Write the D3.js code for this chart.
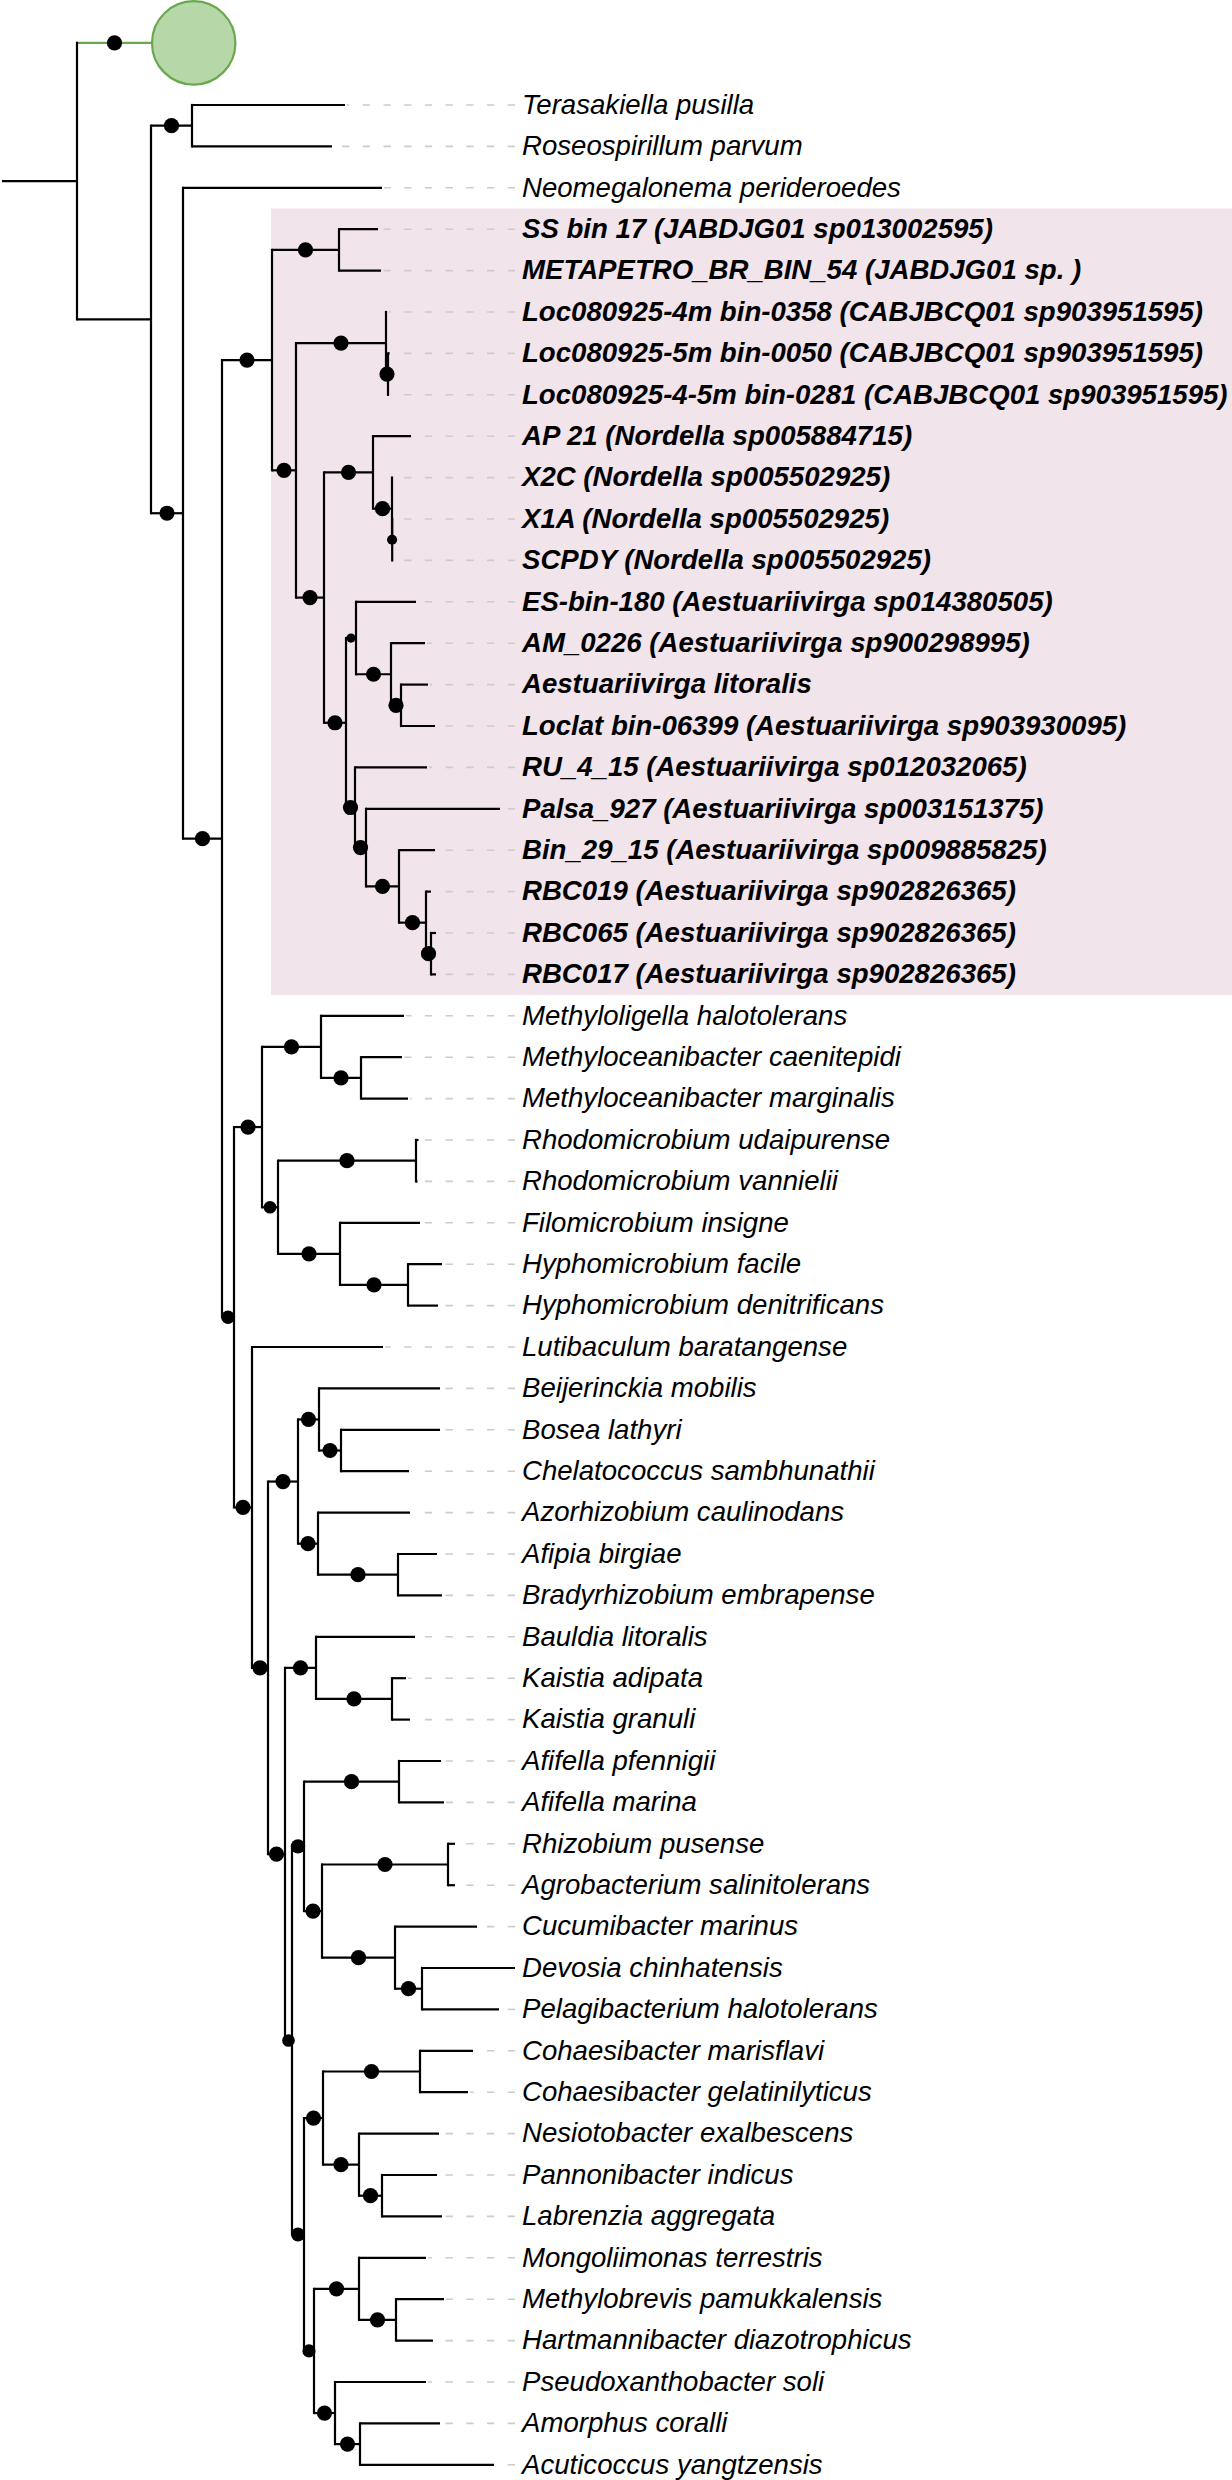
<!DOCTYPE html>
<html>
<head>
<meta charset="utf-8">
<script src="https://cdn.jsdelivr.net/npm/d3@7"></script>
<style>
  html, body { margin: 0; padding: 0; background: #ffffff; }
  svg { display: block; }
</style>
</head>
<body>
<div id="chart"></div>
<script>
// ---------------- DATA ----------------
// Tip labels, in the order they appear from top to bottom (tip ids 0..57 in the tree strings)
const tipLabels = [
  "Terasakiella pusilla",
  "Roseospirillum parvum",
  "Neomegalonema perideroedes",
  "SS bin 17 (JABDJG01 sp013002595)",
  "METAPETRO_BR_BIN_54 (JABDJG01 sp. )",
  "Loc080925-4m bin-0358 (CABJBCQ01 sp903951595)",
  "Loc080925-5m bin-0050 (CABJBCQ01 sp903951595)",
  "Loc080925-4-5m bin-0281 (CABJBCQ01 sp903951595)",
  "AP 21 (Nordella sp005884715)",
  "X2C (Nordella sp005502925)",
  "X1A (Nordella sp005502925)",
  "SCPDY (Nordella sp005502925)",
  "ES-bin-180 (Aestuariivirga sp014380505)",
  "AM_0226 (Aestuariivirga sp900298995)",
  "Aestuariivirga litoralis",
  "Loclat bin-06399 (Aestuariivirga sp903930095)",
  "RU_4_15 (Aestuariivirga sp012032065)",
  "Palsa_927 (Aestuariivirga sp003151375)",
  "Bin_29_15 (Aestuariivirga sp009885825)",
  "RBC019 (Aestuariivirga sp902826365)",
  "RBC065 (Aestuariivirga sp902826365)",
  "RBC017 (Aestuariivirga sp902826365)",
  "Methyloligella halotolerans",
  "Methyloceanibacter caenitepidi",
  "Methyloceanibacter marginalis",
  "Rhodomicrobium udaipurense",
  "Rhodomicrobium vannielii",
  "Filomicrobium insigne",
  "Hyphomicrobium facile",
  "Hyphomicrobium denitrificans",
  "Lutibaculum baratangense",
  "Beijerinckia mobilis",
  "Bosea lathyri",
  "Chelatococcus sambhunathii",
  "Azorhizobium caulinodans",
  "Afipia birgiae",
  "Bradyrhizobium embrapense",
  "Bauldia litoralis",
  "Kaistia adipata",
  "Kaistia granuli",
  "Afifella pfennigii",
  "Afifella marina",
  "Rhizobium pusense",
  "Agrobacterium salinitolerans",
  "Cucumibacter marinus",
  "Devosia chinhatensis",
  "Pelagibacterium halotolerans",
  "Cohaesibacter marisflavi",
  "Cohaesibacter gelatinilyticus",
  "Nesiotobacter exalbescens",
  "Pannonibacter indicus",
  "Labrenzia aggregata",
  "Mongoliimonas terrestris",
  "Methylobrevis pamukkalensis",
  "Hartmannibacter diazotrophicus",
  "Pseudoxanthobacter soli",
  "Amorphus coralli",
  "Acuticoccus yangtzensis"
];

// Collapsed clade (shown as the green circle): id "c" in the tree, occupies 2 rows
const collapsedId = "c";
const collapsedRows = 2;

// Highlighted clade: MRCA of these two tips (tips in it are also drawn bold)
const highlightTips = [3, 21];

// Subtree strings (Newick; tip ids, internal labels = support values, :branch lengths)
const cladeJABDJG  = "(3:0.039,4:0.042)100:0.067";
const cladeCABJBCQ = "(5:0.0005,(6:0.0016,7:0.0003)100:0.002)100:0.090";
const cladeNordella = "(8:0.038,(9:0.0003,(10:0.0003,11:0.0003)70:0.0002)100:0.019)100:0.049";
const cladeAestA = "(12:0.060,(13:0.034,(14:0.027,15:0.034)100:0.010)100:0.035)65:0.010";
const cladeAestB = "(16:0.072,(17:0.134,(18:0.036,(19:0.005,(20:0.005,21:0.005)100:0.005)100:0.027)100:0.033)100:0.011)100:0.009";
const cladeHypho = "((22:0.083,(23:0.041,24:0.047)100:0.040)100:0.059,((25:0.0025,26:0.0015)100:0.138,(27:0.080,(28:0.034,29:0.030)100:0.068)100:0.062)85:0.016)100:0.028";
const cladeBradyr = "((31:0.121,(32:0.099,33:0.068)100:0.022)100:0.021,(34:0.092,(35:0.039,36:0.044)100:0.080)100:0.020)100:0.030";
const cladeKaistia = "(37:0.099,(38:0.014,39:0.018)100:0.076)100:0.031";
const cladeRhizob = "((40:0.042,41:0.045)100:0.095,((42:0.007,43:0.007)100:0.126,(44:0.082,(45:0.093,46:0.077)100:0.027)100:0.073)100:0.018)95:0.012";
const cladeStappia = "(((47:0.053,48:0.048)100:0.097,(49:0.080,(50:0.055,51:0.060)100:0.023)100:0.036)100:0.019,((52:0.067,(53:0.048,54:0.037)100:0.037)100:0.045,(55:0.091,(56:0.080,57:0.134)100:0.025)100:0.021)88:0.010)92:0.012";

const cladeRhizobiales = "(" + cladeKaistia + ",(" + cladeRhizob + "," + cladeStappia + ")85:0.007)100:0.017";
const cladeLower = "(" + cladeHypho + ",(30:0.131,(" + cladeBradyr + "," + cladeRhizobiales + ")100:0.016)100:0.018)90:0.012";
const cladeHighlight = "(" + cladeJABDJG + ",(" + cladeCABJBCQ + ",(" + cladeNordella + ",(" + cladeAestA + "," + cladeAestB + ")100:0.022)100:0.028)100:0.024)100:0.050";
const treeNewick = "(" + collapsedId + ":0.075,((0:0.153,1:0.140)100:0.041,(2:0.199,(" +
  cladeHighlight + "," + cladeLower + ")100:0.039)100:0.032):0.074):0.075;";

// ---------------- PARSE ----------------
function parseNewick(s) {
  let i = 0;
  function node() {
    const n = { children: [] };
    if (s[i] === "(") {
      i++;
      n.children.push(node());
      while (s[i] === ",") { i++; n.children.push(node()); }
      i++; // ')'
    }
    let name = "";
    while (i < s.length && !":,();".includes(s[i])) name += s[i++];
    n.name = name;
    n.length = 0;
    if (s[i] === ":") {
      i++;
      let num = "";
      while (i < s.length && !",();".includes(s[i])) num += s[i++];
      n.length = +num;
    }
    return n;
  }
  return node();
}

const root = d3.hierarchy(parseNewick(treeNewick), d => d.children.length ? d.children : null);

// cumulative branch length
root.eachBefore(n => { n.len = (n.parent ? n.parent.len : 0) + n.data.length; });

// rows
let row = 0;
root.leaves().forEach(l => {
  if (l.data.name === collapsedId) {
    l.row = row + (collapsedRows - 1) / 2;
    row += collapsedRows;
  } else {
    l.row = row;
    row += 1;
  }
});
const nRows = row;
root.eachAfter(n => { if (n.children) n.row = d3.mean(n.children, c => c.row); });

// ---------------- SCALES ----------------
const W = 1232, H = 2480;
const maxLen = d3.max(root.leaves(), l => l.len);
const x = d3.scaleLinear().domain([0, maxLen]).range([2, 515]);
const y = d3.scaleLinear().domain([0, nRows - 1]).range([22.2, 2464.8]);
const rowH = y(1) - y(0);
const rSupport = d3.scaleLinear().domain([60, 100]).range([4.2, 7.6]);

const labelX = 522;
const fontSize = 27.6;
const lineW = 2.2;
const green = "#6aa84f";
const greenFill = "#b6d7a8";

const svg = d3.select("#chart").append("svg")
  .attr("width", W).attr("height", H)
  .attr("viewBox", `0 0 ${W} ${H}`);
svg.append("rect").attr("width", W).attr("height", H).attr("fill", "#ffffff");

// ---------------- HIGHLIGHT ----------------
const leafById = new Map(root.leaves().map(l => [l.data.name, l]));
const hlA = leafById.get(String(highlightTips[0]));
const hlB = leafById.get(String(highlightTips[1]));
const hlNode = hlA.ancestors().find(a => hlB.ancestors().includes(a));
const hlLeaves = new Set(hlNode.leaves());
const hlRows = hlNode.leaves().map(l => l.row);
svg.append("rect")
  .attr("x", x(hlNode.len) - 1)
  .attr("y", y(d3.min(hlRows)) - rowH / 2)
  .attr("width", W - (x(hlNode.len) - 1))
  .attr("height", y(d3.max(hlRows)) - y(d3.min(hlRows)) + rowH)
  .attr("fill", "#f2e4eb");

// ---------------- LEADER LINES ----------------
const tips = root.leaves().filter(l => l.data.name !== collapsedId);
svg.append("g").selectAll("path").data(tips.filter(t => x(t.len) < x(maxLen) - 1))
  .join("path")
  .attr("d", t => `M${x(maxLen)},${y(t.row)}H${x(t.len) + 2}`)
  .attr("fill", "none")
  .attr("stroke", "#cccccc")
  .attr("stroke-width", 1.6)
  .attr("stroke-dasharray", "7.3,13.4");

// ---------------- BRANCHES ----------------
const gTree = svg.append("g");
// root stem
gTree.append("line")
  .attr("x1", x(0)).attr("x2", x(root.len))
  .attr("y1", y(root.row)).attr("y2", y(root.row))
  .attr("stroke", "#000").attr("stroke-width", lineW);
// horizontal branches
gTree.append("g").selectAll("line").data(root.descendants().filter(n => n.parent))
  .join("line")
  .attr("x1", n => x(n.parent.len)).attr("x2", n => x(n.len))
  .attr("y1", n => y(n.row)).attr("y2", n => y(n.row))
  .attr("stroke", n => n.data.name === collapsedId ? green : "#000")
  .attr("stroke-width", lineW);
// vertical connectors
gTree.append("g").selectAll("line").data(root.descendants().filter(n => n.children))
  .join("line")
  .attr("x1", n => x(n.len)).attr("x2", n => x(n.len))
  .attr("y1", n => y(d3.min(n.children, c => c.row)))
  .attr("y2", n => y(d3.max(n.children, c => c.row)))
  .attr("stroke", "#000").attr("stroke-width", lineW)
  .attr("stroke-linecap", "square");

// collapsed clade circle
const coll = leafById.get(collapsedId);
const collR = 41.7;
svg.append("circle")
  .attr("cx", x(coll.len) + collR).attr("cy", y(coll.row)).attr("r", collR)
  .attr("fill", greenFill).attr("stroke", green).attr("stroke-width", 2.2);

// ---------------- SUPPORT DOTS ----------------
const supported = root.descendants().filter(n => n.parent && (n.children || n.data.name === collapsedId));
const supportOf = n => n.data.name === collapsedId ? 100 : (n.data.name === "" ? null : +n.data.name);
svg.append("g").selectAll("circle")
  .data(supported.filter(n => supportOf(n) !== null))
  .join("circle")
  .attr("cx", n => (x(n.parent.len) + x(n.len)) / 2)
  .attr("cy", n => y(n.row))
  .attr("r", n => rSupport(supportOf(n)))
  .attr("fill", "#000");

// ---------------- LABELS ----------------
svg.append("g").selectAll("text").data(tips)
  .join("text")
  .attr("x", labelX)
  .attr("y", t => y(t.row))
  .attr("dy", "0.32em")
  .attr("font-family", "'Liberation Sans', Arial, sans-serif")
  .attr("font-size", fontSize)
  .attr("font-style", "italic")
  .attr("font-weight", t => hlLeaves.has(t) ? "bold" : "normal")
  .attr("fill", "#000")
  .text(t => tipLabels[+t.data.name]);
</script>
</body>
</html>
